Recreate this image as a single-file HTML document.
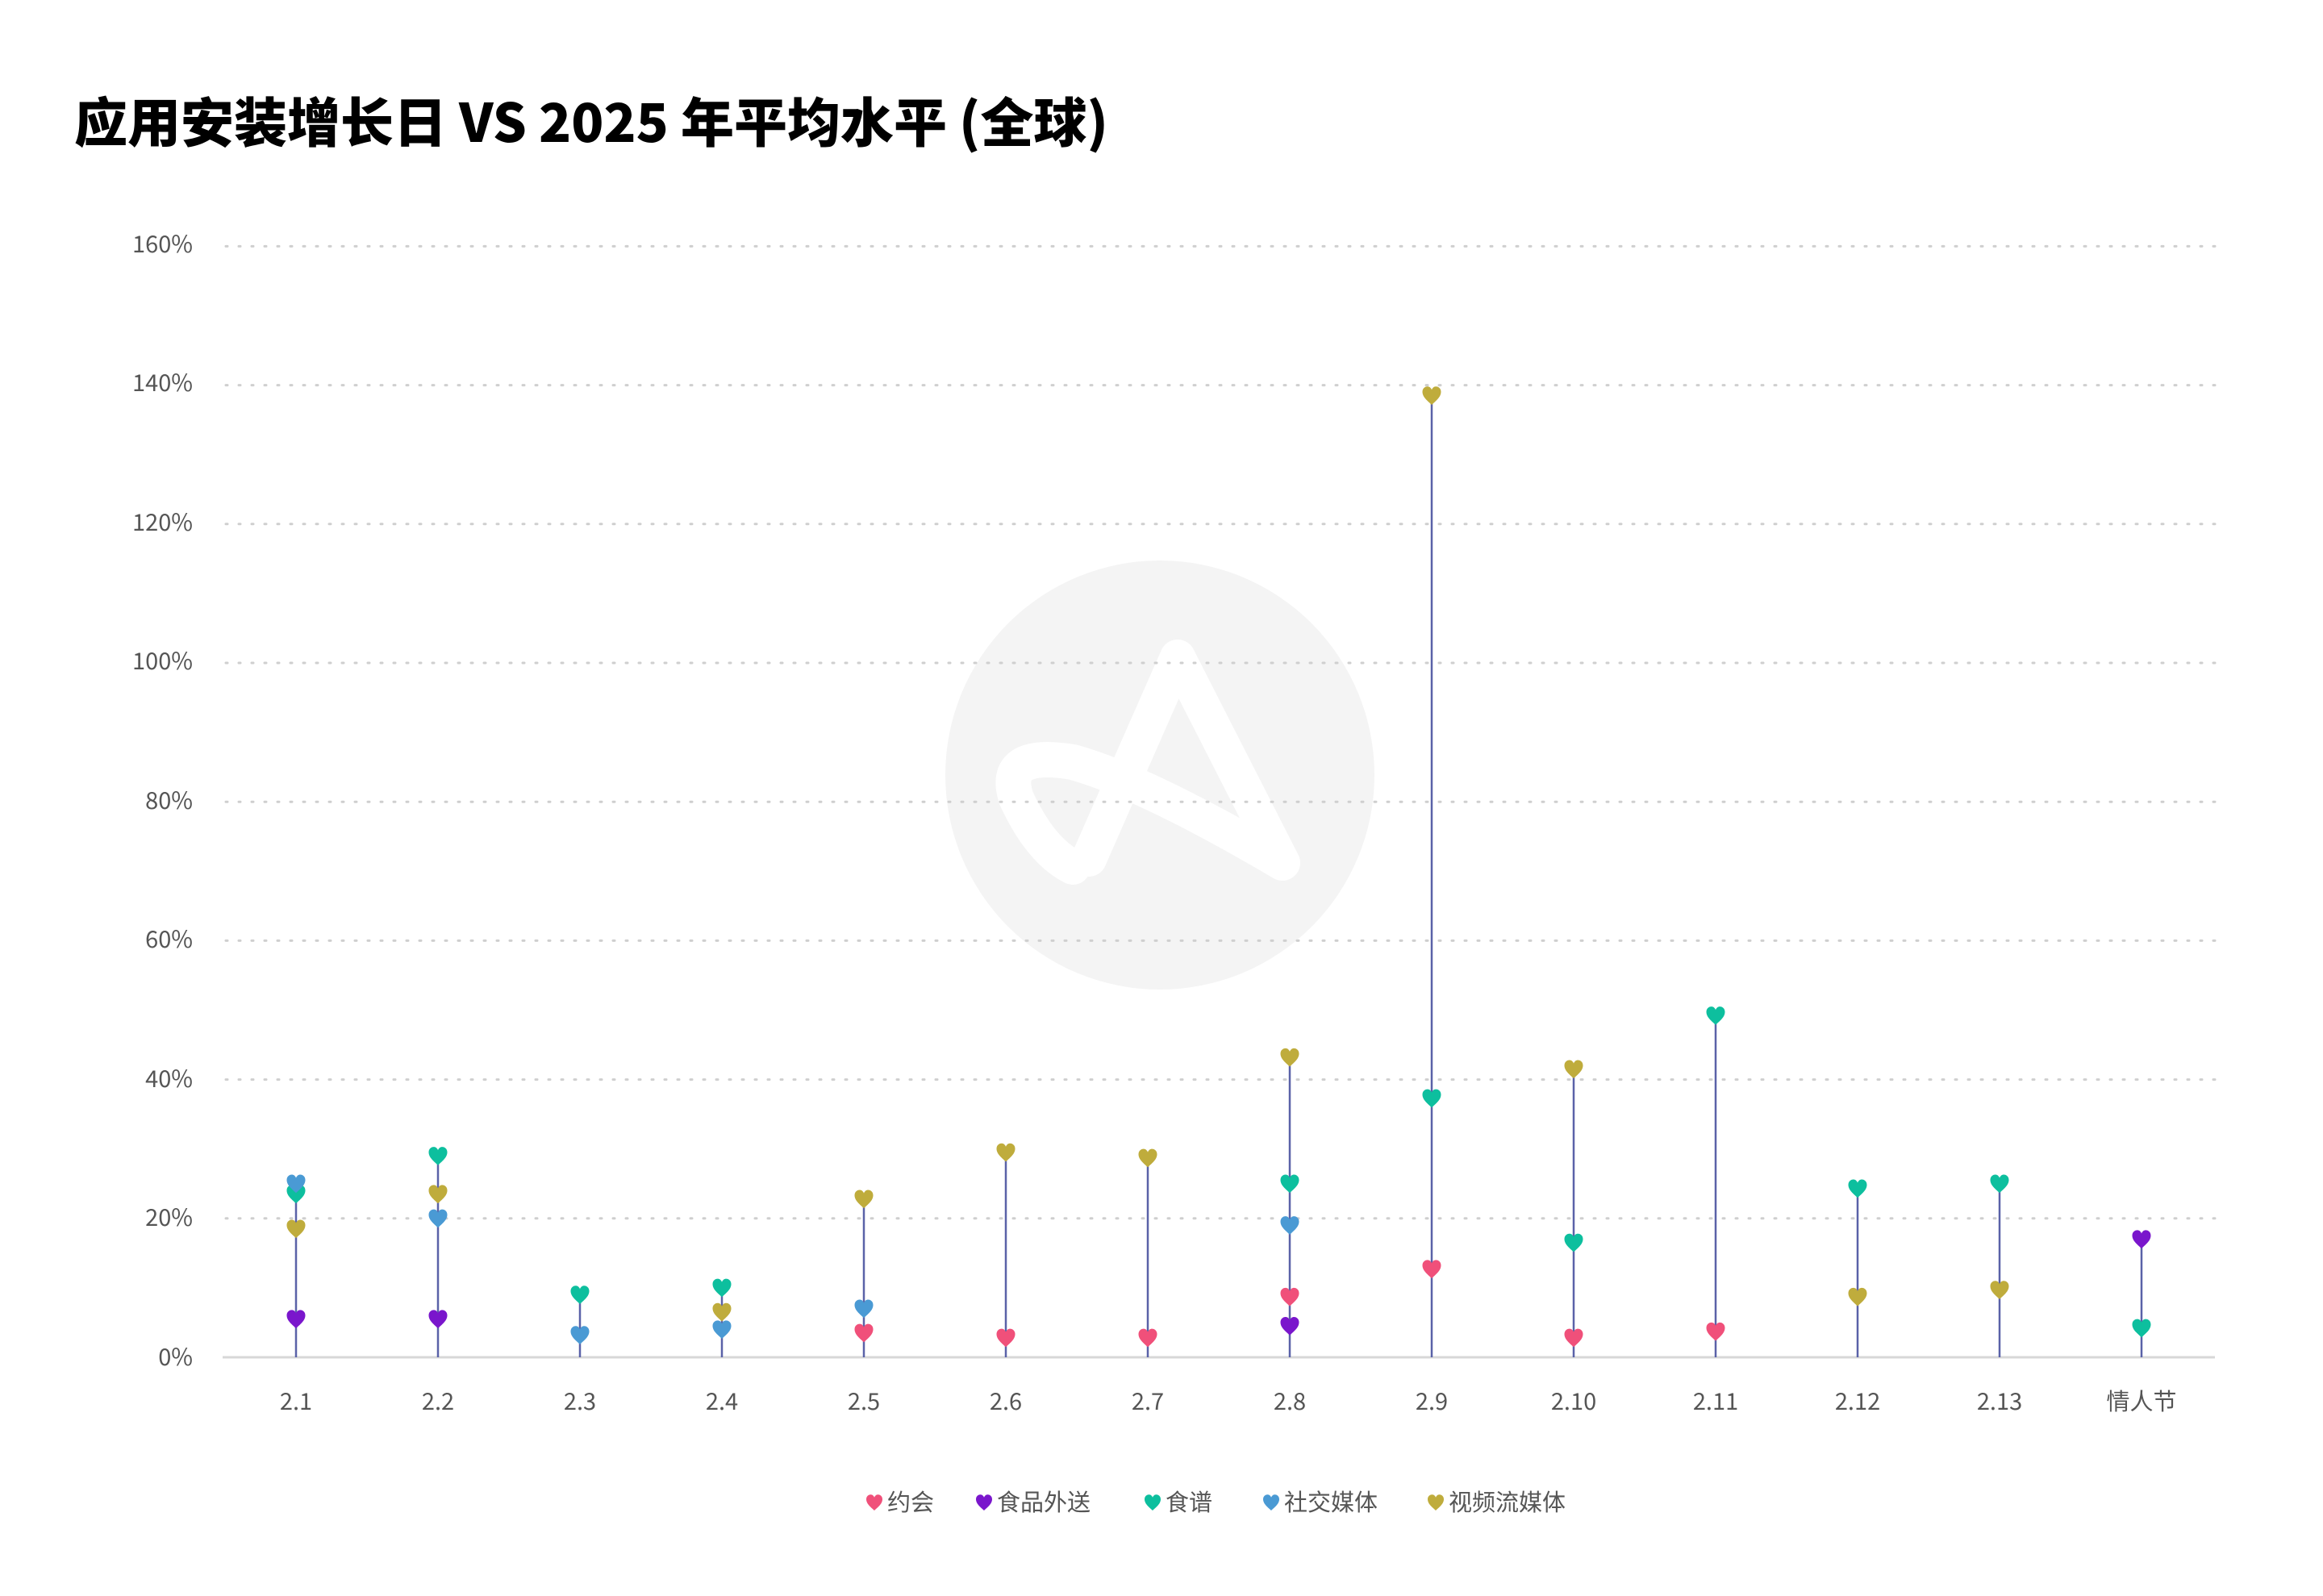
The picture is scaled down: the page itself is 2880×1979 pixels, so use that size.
<!DOCTYPE html>
<html><head><meta charset="utf-8"><style>
html,body{margin:0;padding:0;background:#fff;}
body{width:2880px;height:1974px;overflow:hidden;}
text{font-family:"Noto Sans CJK SC","Liberation Sans",sans-serif;}
</style></head><body>
<svg id="s" width="2880" height="1974" viewBox="0 0 2880 1974" xmlns="http://www.w3.org/2000/svg">
<rect width="2880" height="1974" fill="#fff"/>
<text x="92" y="176" font-size="66" font-weight="900" fill="#000">应用安装增长日 VS 2025 年平均水平 (全球)</text>
<circle cx="1438" cy="961" r="266" fill="#f4f4f4"/>
<path d="M1460,815 L1350,1065 M1460,815 L1590,1070 Q1420,970 1330,945 Q1240,930 1260,990 Q1290,1055 1330,1075" fill="none" stroke="#fff" stroke-width="44" stroke-linecap="round" stroke-linejoin="round"/>
<g id="grid" stroke="#cfcfcf" stroke-width="3" stroke-dasharray="2 14" stroke-linecap="round"></g>
<line x1="276" y1="1683" x2="2746" y2="1683" stroke="#d8d8d8" stroke-width="3"/>
<g font-size="29" fill="#555" text-anchor="end">
<text x="239" y="1693">0%</text><text x="239" y="1520">20%</text><text x="239" y="1348">40%</text><text x="239" y="1175">60%</text><text x="239" y="1003">80%</text><text x="239" y="830">100%</text><text x="239" y="658">120%</text><text x="239" y="485">140%</text><text x="239" y="313">160%</text>
</g>
<g font-size="29" fill="#555" text-anchor="middle">
<text x="367" y="1748">2.1</text><text x="543" y="1748">2.2</text><text x="719" y="1748">2.3</text><text x="895" y="1748">2.4</text><text x="1071" y="1748">2.5</text><text x="1247" y="1748">2.6</text><text x="1423" y="1748">2.7</text><text x="1599" y="1748">2.8</text><text x="1775" y="1748">2.9</text><text x="1951" y="1748">2.10</text><text x="2127" y="1748">2.11</text><text x="2303" y="1748">2.12</text><text x="2479" y="1748">2.13</text><text x="2655" y="1748">情人节</text>
</g>
<g id="series"></g>
<g font-size="29" fill="#555">
<text x="1100" y="1873">约会</text><text x="1236" y="1873">食品外送</text><text x="1445" y="1873">食谱</text><text x="1592" y="1873">社交媒体</text><text x="1796" y="1873">视频流媒体</text>
</g>
<g id="leg"></g>
</svg>
<script>
var NS="http://www.w3.org/2000/svg";
function el(t,a,p){var e=document.createElementNS(NS,t);for(var k in a)e.setAttribute(k,a[k]);p.appendChild(e);return e;}
var g=document.getElementById('grid');
for(var i=1;i<=8;i++){var y=1683-i*172.2;el('line',{x1:280,y1:y,x2:2746,y2:y},g);}
var C={d:"#f0507a",f:"#7a16cc",r:"#0dbf9e",s:"#4a9ad4",v:"#bfac3c"};
var H="M0,10 C-4,6 -10,2 -10,-4 C-10,-9 -5,-11 -2,-9 C-1,-8 0,-7 0,-6 C0,-7 1,-8 2,-9 C5,-11 10,-9 10,-4 C10,2 4,6 0,10Z";
function heart(x,y,c,p,sc){el('path',{d:H,fill:c,transform:"translate("+x+","+y+") scale("+(sc||1.15)+")"},p);}
var D=[
{f:5.5,r:23.5,v:18.5,s:25},
{f:5.5,s:20,v:23.5,r:29},
{s:3.2,r:9},
{s:4,v:6.5,r:10},
{d:3.5,s:7,v:22.8},
{d:2.8,v:29.5},
{d:2.8,v:28.7},
{f:4.5,d:8.7,s:19,r:25,v:43.2},
{d:12.7,r:37.3,v:138.5},
{d:2.8,r:16.5,v:41.5},
{d:3.7,r:49.2},
{v:8.7,r:24.3},
{v:9.7,r:25},
{r:4.2,f:17}];
var S=document.getElementById('series');
function Y(v){return 1683-v*8.61;}
D.forEach(function(o,i){var x=367+i*176;var m=0;for(var k in o)m=Math.max(m,o[k]);
el('line',{x1:x,y1:1683,x2:x,y2:Y(m),stroke:"#5a62a8","stroke-width":2.5},S);
for(var k in o)heart(x,Y(o[k]),C[k],S);});
var L=document.getElementById('leg');
[[1084,"d"],[1220,"f"],[1429,"r"],[1576,"s"],[1780,"v"]].forEach(function(a){heart(a[0],1863,C[a[1]],L,1.0);});
</script>
</body></html>
